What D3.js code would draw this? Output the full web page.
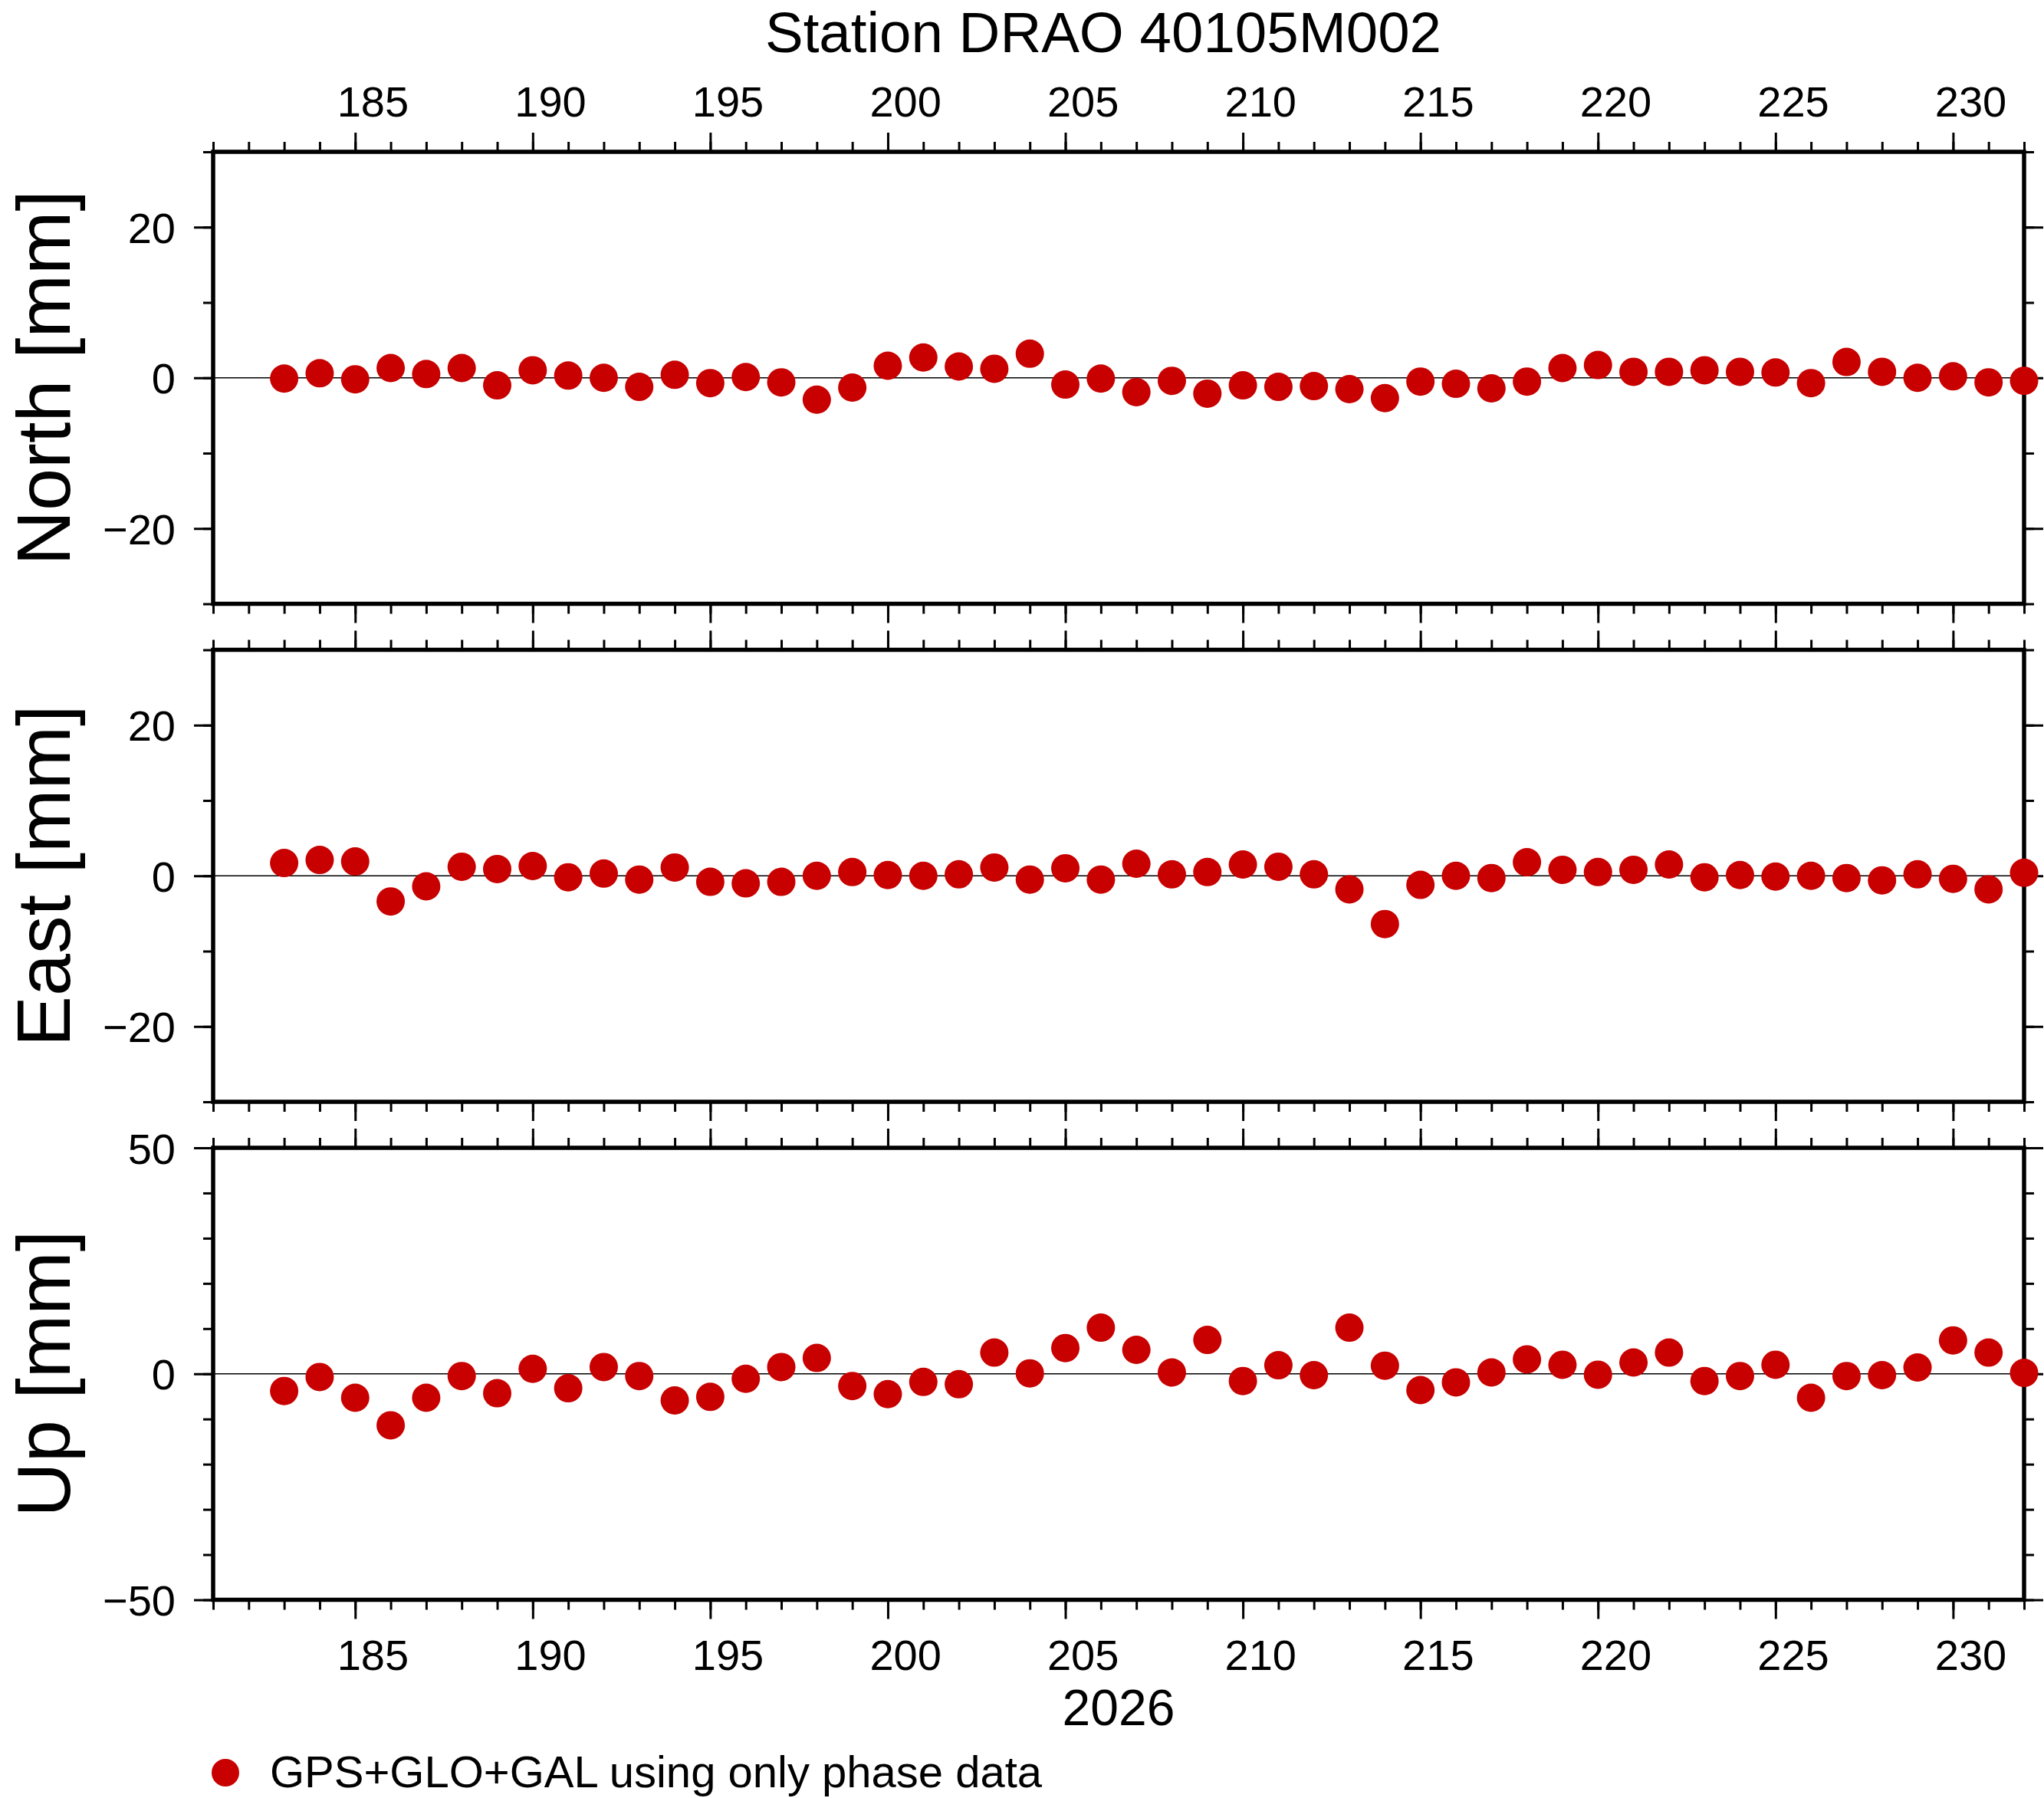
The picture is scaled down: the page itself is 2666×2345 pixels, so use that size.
<!DOCTYPE html>
<html>
<head>
<meta charset="utf-8">
<script src="https://cdn.jsdelivr.net/npm/d3@7"></script>
<style>
  body { margin: 0; background: #fff; }
  svg { display: block; font-family: "Liberation Sans", Arial, Helvetica, sans-serif; }
</style>
</head>
<body>
<svg id="chart"></svg>
<script>
// Day of year 2026
const days = [183, 184, 185, 186, 187, 188, 189, 190, 191, 192,
              193, 194, 195, 196, 197, 198, 199, 200, 201, 202,
              203, 204, 205, 206, 207, 208, 209, 210, 211, 212,
              213, 214, 215, 216, 217, 218, 219, 220, 221, 222,
              223, 224, 225, 226, 227, 228, 229, 230, 231, 232];

// residuals in mm
const north = [-0.1, 0.6, -0.2, 1.3, 0.5, 1.3, -1.0, 1.0, 0.3, 0.0,
               -1.2, 0.4, -0.7, 0.1, -0.6, -2.9, -1.3, 1.6, 2.7, 1.5,
               1.2, 3.2, -0.9, -0.1, -1.9, -0.4, -2.1, -1.0, -1.2, -1.1,
               -1.5, -2.7, -0.5, -0.8, -1.4, -0.5, 1.3, 1.7, 0.8, 0.8,
               1.0, 0.8, 0.7, -0.7, 2.1, 0.8, 0.0, 0.2, -0.6, -0.4];

const east = [1.7, 2.1, 1.9, -3.4, -1.4, 1.2, 0.9, 1.3, -0.2, 0.3,
              -0.5, 1.1, -0.8, -1.0, -0.8, 0.0, 0.5, 0.1, 0.0, 0.2,
              1.1, -0.5, 1.0, -0.5, 1.6, 0.2, 0.5, 1.5, 1.2, 0.2,
              -1.8, -6.4, -1.2, 0.0, -0.3, 1.8, 0.8, 0.5, 0.8, 1.5,
              -0.2, 0.1, -0.1, 0.0, -0.3, -0.6, 0.2, -0.4, -1.8, 0.4];

const up = [-3.8, -0.7, -5.3, -11.4, -5.3, -0.5, -4.3, 1.1, -3.2, 1.5,
            -0.5, -5.9, -5.1, -1.1, 1.5, 3.5, -2.7, -4.5, -1.8, -2.3,
            4.7, 0.1, 5.7, 10.2, 5.3, 0.3, 7.5, -1.6, 1.9, -0.3,
            10.2, 1.8, -3.6, -1.9, 0.3, 3.2, 2.0, -0.2, 2.5, 4.7,
            -1.6, -0.5, 2.0, -5.3, -0.5, -0.3, 1.4, 7.4, 4.7, 0.2];

const componentNames = ['North [mm]', 'East [mm]', 'Up [mm]'];
const yDomains = [[-30, 30], [-30, 30], [-50, 50]];
const yMajorTicks = [[-20, 0, 20], [-20, 0, 20], [-50, 0, 50]];
const yMinorTicks = [[-30, -20, -10, 0, 10, 20, 30], [-30, -20, -10, 0, 10, 20, 30],
                     [-50, -40, -30, -20, -10, 0, 10, 20, 30, 40, 50]];
const xDomain = [181, 232];
const xMajorTicks = [185, 190, 195, 200, 205, 210, 215, 220, 225, 230];
const yearLabel = '2026';
const titleText = 'Station DRAO 40105M002';
const legendText = 'GPS+GLO+GAL using only phase data';

const W = 2666, H = 2345;
const left = 278, right = 2640;
const panelTops = [198, 847.5, 1497];
const panelH = 589.5;
const dotColor = '#c80000';

const svg = d3.select('#chart').attr('width', W).attr('height', H);
svg.append('rect').attr('width', W).attr('height', H).attr('fill', '#fff');

const x = d3.scaleLinear().domain(xDomain).range([left, right]);
const xMinorTicks = d3.range(xDomain[0], xDomain[1] + 1);

const series = [north, east, up];

series.forEach((vals, i) => {
  const top = panelTops[i];
  const y = d3.scaleLinear().domain(yDomains[i]).range([top + panelH, top]);
  const g = svg.append('g').attr('class', 'panel');

  // zero line
  g.append('line')
    .attr('x1', left).attr('x2', right)
    .attr('y1', y(0)).attr('y2', y(0))
    .attr('stroke', '#000').attr('stroke-width', 1.3);

  // ticks (all outward)
  const tickAxes = [
    {ax: d3.axisTop(x).tickValues(xMinorTicks).tickSize(13), t: `translate(0,${top})`},
    {ax: d3.axisTop(x).tickValues(xMajorTicks).tickSize(25), t: `translate(0,${top})`},
    {ax: d3.axisBottom(x).tickValues(xMinorTicks).tickSize(13), t: `translate(0,${top + panelH})`},
    {ax: d3.axisBottom(x).tickValues(xMajorTicks).tickSize(25), t: `translate(0,${top + panelH})`},
    {ax: d3.axisRight(y).tickValues(yMinorTicks[i]).tickSize(13), t: `translate(${right},0)`},
    {ax: d3.axisRight(y).tickValues(yMajorTicks[i]).tickSize(25), t: `translate(${right},0)`},
    {ax: d3.axisLeft(y).tickValues(yMinorTicks[i]).tickSize(13), t: `translate(${left},0)`}
  ];
  tickAxes.forEach(a => {
    const ag = g.append('g').attr('transform', a.t).call(a.ax.tickFormat(''));
    ag.select('.domain').remove();
    ag.selectAll('line').attr('stroke', '#000').attr('stroke-width', 3);
  });

  // left axis with labels
  const yAxisG = g.append('g')
    .attr('transform', `translate(${left},0)`)
    .call(d3.axisLeft(y).tickValues(yMajorTicks[i]).tickSize(25).tickPadding(24)
      .tickFormat(d3.format('d')));
  yAxisG.select('.domain').remove();
  yAxisG.selectAll('line').attr('stroke', '#000').attr('stroke-width', 3);
  yAxisG.attr('font-size', 56).attr('font-family', null);
  yAxisG.selectAll('text').attr('fill', '#000').attr('dy', '0.36em');

  // frame
  g.append('rect')
    .attr('x', left).attr('y', top)
    .attr('width', right - left).attr('height', panelH)
    .attr('fill', 'none').attr('stroke', '#000').attr('stroke-width', 5.5);

  // component label (kept just inside the left edge)
  g.append('text')
    .attr('transform', `translate(91,${top + panelH / 2}) rotate(-90)`)
    .attr('text-anchor', 'middle')
    .attr('font-size', 99)
    .text(componentNames[i]);

  // points
  g.selectAll('circle.pt')
    .data(days.map((d, k) => ({day: d, v: vals[k]})))
    .join('circle')
    .attr('class', 'pt')
    .attr('cx', d => x(d.day))
    .attr('cy', d => y(d.v))
    .attr('r', 18.5)
    .attr('fill', dotColor);
});

// day labels sit in the middle of each day interval
const labelRows = [152, 2178];
labelRows.forEach(by => {
  svg.append('g').selectAll('text')
    .data(xMajorTicks)
    .join('text')
    .attr('x', d => x(d + 0.5))
    .attr('y', by)
    .attr('text-anchor', 'middle')
    .attr('font-size', 56)
    .text(d => d);
});

// title (kept inside the top edge)
svg.append('text')
  .attr('x', 1439).attr('y', 68)
  .attr('text-anchor', 'middle')
  .attr('font-size', 74.5)
  .text(titleText);

// year
svg.append('text')
  .attr('x', (left + right) / 2).attr('y', 2250)
  .attr('text-anchor', 'middle')
  .attr('font-size', 66)
  .text(yearLabel);

// legend
svg.append('circle')
  .attr('cx', 294).attr('cy', 2312).attr('r', 18)
  .attr('fill', dotColor);
svg.append('text')
  .attr('x', 352).attr('y', 2331)
  .attr('font-size', 58)
  .text(legendText);
</script>
</body>
</html>
